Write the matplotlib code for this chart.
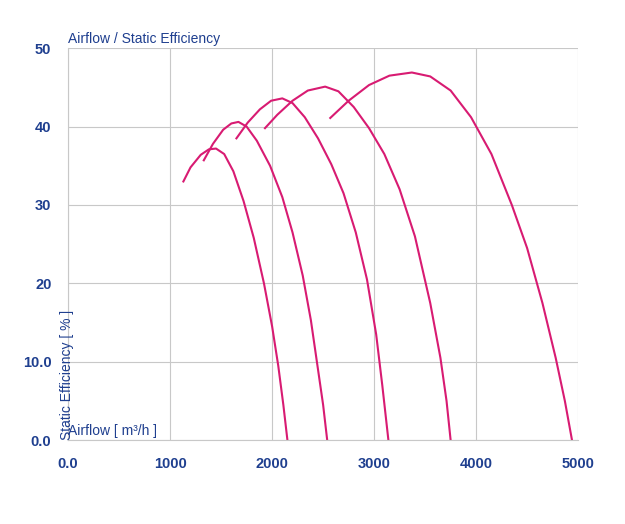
import matplotlib
matplotlib.use('Agg')
import matplotlib.pyplot as plt

plt.rcParams['font.family'] = ['Liberation Sans', 'DejaVu Sans']

# airflow [m3/h] / static efficiency [%] curves
c1_x = [1130, 1200, 1300, 1380, 1450, 1530, 1620, 1720, 1820, 1920, 2000, 2060, 2110, 2150]
c1_y = [33.0, 34.8, 36.4, 37.1, 37.2, 36.5, 34.3, 30.5, 25.8, 20.0, 14.5, 9.5, 4.5, 0.0]
c2_x = [1330, 1420, 1520, 1600, 1670, 1750, 1850, 1980, 2100, 2200, 2300, 2380, 2450, 2500, 2540]
c2_y = [35.7, 37.8, 39.6, 40.4, 40.6, 40.0, 38.2, 35.0, 31.0, 26.5, 21.0, 15.3, 9.0, 4.5, 0.0]
c3_x = [1650, 1760, 1880, 1990, 2100, 2200, 2320, 2450, 2580, 2700, 2820, 2930, 3020, 3080, 3140]
c3_y = [38.5, 40.5, 42.2, 43.3, 43.6, 43.0, 41.2, 38.5, 35.2, 31.5, 26.5, 20.5, 13.5, 7.0, 0.0]
c4_x = [1930, 2050, 2200, 2350, 2520, 2650, 2800, 2950, 3100, 3250, 3400, 3550, 3650, 3710, 3750]
c4_y = [39.8, 41.5, 43.3, 44.6, 45.1, 44.5, 42.5, 39.8, 36.5, 32.0, 26.0, 17.5, 10.5, 5.0, 0.0]
c5_x = [2570, 2750, 2950, 3150, 3370, 3550, 3750, 3950, 4150, 4350, 4500, 4650, 4780, 4870, 4940]
c5_y = [41.1, 43.3, 45.3, 46.5, 46.9, 46.4, 44.6, 41.2, 36.5, 30.0, 24.5, 17.5, 10.5, 5.0, 0.0]
curves = [(c1_x, c1_y), (c2_x, c2_y), (c3_x, c3_y), (c4_x, c4_y), (c5_x, c5_y)]

x_ticks = [0, 1000, 2000, 3000, 4000, 5000]
x_labels = ['0.0', '1000', '2000', '3000', '4000', '5000']
y_ticks = [0, 10, 20, 30, 40, 50]
y_labels = ['0.0', '10.0', '20', '30', '40', '50']

blue = '#1f3f8f'
pink = '#d81b72'

fig = plt.figure(figsize=(6.25, 5.24), dpi=100)
ax = fig.add_axes([0.109, 0.160, 0.816, 0.748])
for xs, ys in curves:
    ax.plot(xs, ys, color=pink, lw=1.5)

ax.set_xlim(0, 5000)
ax.set_ylim(0, 50)
ax.set_xticks(x_ticks)
ax.set_xticklabels(x_labels)
ax.set_yticks(y_ticks)
ax.set_yticklabels(y_labels)
ax.grid(True, color='#c8c8c8', lw=0.8)
ax.tick_params(length=0, colors=blue, labelsize=10.5, pad=12)
for lbl in ax.get_xticklabels() + ax.get_yticklabels():
    lbl.set_fontweight('bold')
for s in ['top', 'right']:
    ax.spines[s].set_visible(False)
ax.spines['left'].set_color('#c8c8c8')
ax.spines['bottom'].set_color('#c8c8c8')

ax.text(0.0, 1.005, 'Airflow / Static Efficiency', transform=ax.transAxes,
        color=blue, fontsize=10, va='bottom', ha='left')
ax.text(0.0, 0.005, 'Airflow [ m³/h ]', transform=ax.transAxes,
        color=blue, fontsize=10, va='bottom', ha='left')
ax.text(-0.015, 0.0, 'Static Efficiency [ % ]', transform=ax.transAxes,
        color=blue, fontsize=10, va='bottom', ha='left', rotation=90)

fig.savefig('out.png')
